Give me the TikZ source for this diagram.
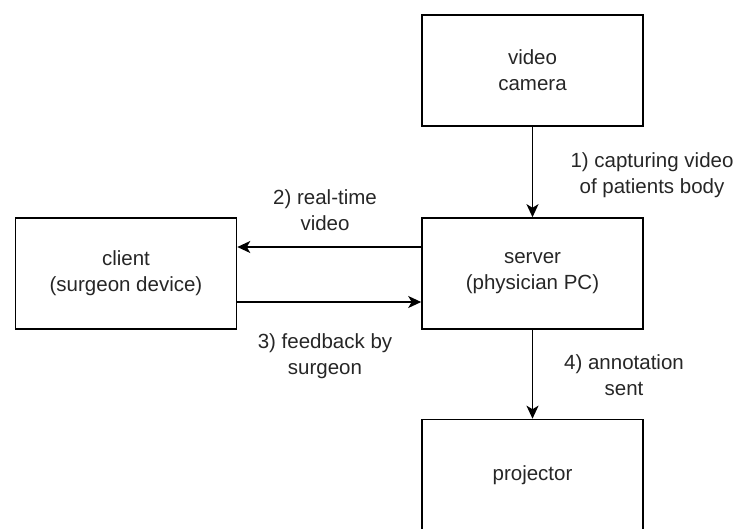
\documentclass[tikz,border=0pt]{standalone}
\usepackage{fontspec}
\setmainfont{Liberation Sans}
\usetikzlibrary{arrows.meta}
\begin{document}
\begin{tikzpicture}[x=1pt,y=-1pt,
  box/.style={draw=black, line width=1.6pt, minimum width=221pt, minimum height=111pt,
              inner sep=0pt, align=center, text=black!85},
  lbl/.style={align=center, text=black!85, inner sep=0pt},
  arr/.style={draw=black, line width=1.6pt, -{Stealth[length=13pt,width=12pt,inset=3.5pt]}},
  every node/.append style={font=\fontsize{20.5}{26}\selectfont}]
  \useasboundingbox (0,0) rectangle (743,528);
  \clip (0,0) rectangle (743,528);

  % boxes
  \node[box] (camera) at (532.5,70.5) {video\\camera};
  \node[box] (client) at (126,273.5) {client\\(surgeon device)};
  \node[box] (server) at (532.5,273.5) {server\\(physician PC)};
  \node[box] (projector) at (532.5,475) {projector};

  % connectors
  \draw[arr] (camera.south) -- (server.north);
  \draw[arr] ([yshift=26.5pt]server.west) -- ([yshift=26.5pt]client.east);
  \draw[arr] ([yshift=-28.5pt]client.east) -- ([yshift=-28.5pt]server.west);
  \draw[arr] (server.south) -- (projector.north);

  % connector labels
  \node[lbl] (l1) at (652,175) {1) capturing video\\of patients body};
  \node[lbl] (l2) at (325,210.5) {2) real-time\\video};
  \node[lbl] (l3) at (325,356) {3) feedback by\\surgeon};
  \node[lbl] (l4) at (624,375) {4) annotation\\sent};
\end{tikzpicture}
\end{document}
